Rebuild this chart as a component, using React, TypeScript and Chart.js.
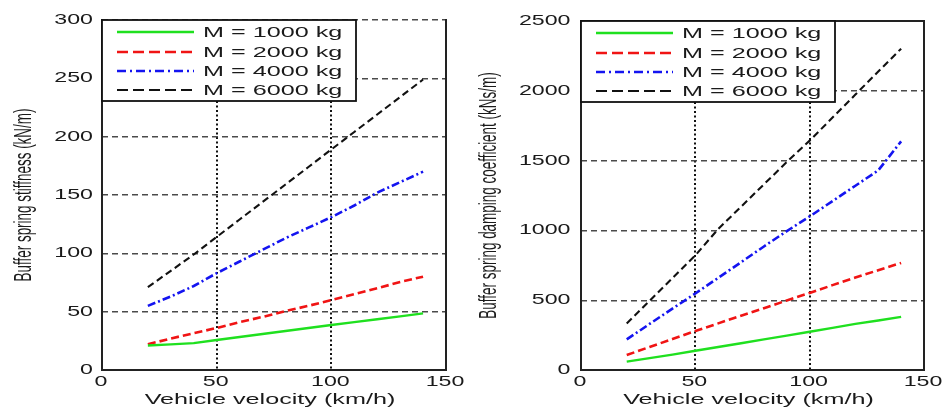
import React, { useEffect, useRef } from "react";
import { Chart, registerables } from "chart.js";

Chart.register(...registerables);

// ---------- data ----------
const velocity = [20, 30, 40, 50, 60, 70, 80, 90, 100, 110, 120, 130, 140];

const stiffness1000 = [21, 22, 23, 25.7, 28.3, 30.9, 33.4, 36, 38.6, 41, 43.5, 46, 48.5];
const stiffness2000 = [22, 27, 31.5, 36, 41, 45.5, 50.5, 55, 60, 65, 70, 75.5, 80];
const stiffness4000 = [55, 63, 72, 83, 93, 103, 113, 122, 131, 141, 152, 161, 170];
const stiffness6000 = [71, 85, 99, 114, 129, 144, 159, 174, 189, 204, 219, 234, 249];

const damping1000 = [60, 85, 110, 138, 165, 192, 219, 246, 274, 302, 330, 355, 381];
const damping2000 = [107, 165, 222, 279, 334, 389, 443, 498, 552, 608, 662, 715, 767];
const damping4000 = [219, 330, 440, 548, 660, 772, 885, 995, 1100, 1210, 1320, 1430, 1638];
const damping6000 = [333, 495, 658, 821, 1010, 1170, 1330, 1490, 1643, 1808, 1973, 2138, 2302];

const seriesLabels = ["M = 1000 kg", "M = 2000 kg", "M = 4000 kg", "M = 6000 kg"];
const seriesColors = ["#1fe01f", "#f01414", "#1414f0", "#111111"];
const seriesDash: number[][] = [[], [8, 4], [8, 3, 2, 3], [7, 4]];
const legendDash: number[][] = [[], [11, 5], [9, 4, 2, 4], [11, 5]];
const seriesWidth = [2.4, 2.6, 2.6, 2.1];

const xTicks = [0, 50, 100, 150];
const stiffnessTicks = [0, 50, 100, 150, 200, 250, 300];
const dampingTicks = [0, 500, 1000, 1500, 2000, 2500];

const xTitle = "Vehicle velocity (km/h)";
const stiffnessTitle = "Buffer spring stiffness (kN/m)";
const dampingTitle = "Buffer spring damping coefficient (kNs/m)";

// ---------- helpers ----------
const SANS = '"Liberation Sans", Arial, sans-serif';
const TEXT = "#1a1a1a";

function stretchedText(
  ctx: CanvasRenderingContext2D,
  text: string,
  x: number,
  y: number,
  sx: number,
  align: "left" | "center" | "right",
  font: string,
  baseline: CanvasTextBaseline = "middle"
) {
  ctx.save();
  ctx.font = font;
  ctx.textBaseline = baseline;
  ctx.textAlign = "left";
  ctx.fillStyle = TEXT;
  const w = ctx.measureText(text).width * sx;
  const x0 = align === "left" ? x : align === "center" ? x - w / 2 : x - w;
  ctx.translate(x0, y);
  ctx.scale(sx, 1);
  ctx.fillText(text, 0, 0);
  ctx.restore();
}

interface PanelSpec {
  values: number[][];
  yTicks: number[];
  yTitle: string;
  padding: { left: number; right: number; top: number; bottom: number };
  yLabelGap: number;
  yTitleX: number;
  topSolid: boolean;
}

function makeChart(canvas: HTMLCanvasElement, spec: PanelSpec) {
  const yMax = spec.yTicks[spec.yTicks.length - 1];
  const yStep = spec.yTicks[1] - spec.yTicks[0];

  const decor = {
    id: "matlabDecor",
    afterDatasetsDraw(chart: any) {
      const ctx: CanvasRenderingContext2D = chart.ctx;
      const a = chart.chartArea;
      const xs = chart.scales.x;
      const ys = chart.scales.y;

      // frame
      ctx.save();
      ctx.strokeStyle = "#222";
      ctx.lineWidth = 2;
      ctx.setLineDash([]);
      ctx.beginPath();
      if (spec.topSolid) {
        ctx.moveTo(a.left, a.top);
        ctx.lineTo(a.right, a.top);
      }
      ctx.moveTo(a.left, a.top - 1);
      ctx.lineTo(a.left, a.bottom);
      ctx.lineTo(a.right, a.bottom);
      ctx.lineTo(a.right, a.top - 1);
      ctx.stroke();
      ctx.restore();

      // legend box
      const bx = a.left;
      const by = a.top;
      const bw = 254;
      const bh = 81;
      ctx.save();
      ctx.fillStyle = "#ffffff";
      ctx.fillRect(bx, by, bw, bh);
      ctx.strokeStyle = "#111";
      ctx.lineWidth = 1.8;
      ctx.strokeRect(bx, by, bw, bh);
      const rows = [12, 32, 51, 70];
      for (let i = 0; i < seriesLabels.length; i++) {
        const ry = by + rows[i];
        ctx.save();
        ctx.strokeStyle = seriesColors[i];
        ctx.lineWidth = seriesWidth[i];
        ctx.setLineDash(legendDash[i]);
        ctx.beginPath();
        ctx.moveTo(bx + 15, ry);
        ctx.lineTo(bx + 92, ry);
        ctx.stroke();
        ctx.restore();
        stretchedText(ctx, seriesLabels[i], bx + 101, ry + 1, 1.68, "left", `15px ${SANS}`);
      }
      ctx.restore();

      // tick labels
      for (const t of ys.ticks) {
        const py = ys.getPixelForValue(t.value);
        stretchedText(ctx, String(t.value), a.left - spec.yLabelGap, py, 1.6, "right", `14.5px ${SANS}`);
      }
      for (const t of xs.ticks) {
        const px = xs.getPixelForValue(t.value);
        stretchedText(ctx, String(t.value), px - 1, a.bottom + 12, 1.6, "center", `14.5px ${SANS}`);
      }

      // x title
      stretchedText(ctx, xTitle, (a.left + a.right) / 2 - 4, 404, 1.68, "center", `15px ${SANS}`, "alphabetic");

      // y title (condensed, rotated)
      ctx.save();
      ctx.font = `23px ${SANS}`;
      ctx.fillStyle = TEXT;
      ctx.textAlign = "center";
      ctx.textBaseline = "middle";
      ctx.translate(spec.yTitleX, (a.top + a.bottom) / 2);
      ctx.rotate(-Math.PI / 2);
      ctx.scale(0.585, 1);
      ctx.fillText(spec.yTitle, 0, 0);
      ctx.restore();
    },
  };

  return new Chart(canvas, {
    type: "line",
    data: {
      datasets: spec.values.map((vals, i) => ({
        label: seriesLabels[i],
        data: velocity.map((v, j) => ({ x: v, y: vals[j] })),
        borderColor: seriesColors[i],
        backgroundColor: seriesColors[i],
        borderWidth: seriesWidth[i],
        borderDash: seriesDash[i],
        pointRadius: 0,
        tension: 0,
        fill: false,
      })),
    },
    options: {
      animation: false,
      responsive: false,
      events: [],
      layout: { padding: spec.padding },
      plugins: { legend: { display: false }, tooltip: { enabled: false }, title: { display: false } },
      scales: {
        x: {
          type: "linear",
          min: xTicks[0],
          max: xTicks[xTicks.length - 1],
          afterBuildTicks: (s: any) => {
            s.ticks = xTicks.map((v) => ({ value: v }));
          },
          ticks: { display: false },
          grid: { color: "#111", lineWidth: 2, drawTicks: false },
          border: { display: false, dash: [2, 2.5] },
          afterFit: (s: any) => {
            s.height = 0;
          },
        },
        y: {
          type: "linear",
          min: 0,
          max: yMax,
          ticks: { display: false, stepSize: yStep },
          afterBuildTicks: (s: any) => {
            s.ticks = spec.yTicks.map((v) => ({ value: v }));
          },
          grid: { color: "#4a4a4a", lineWidth: 1.4, drawTicks: false },
          border: { display: false, dash: [6, 4] },
          afterFit: (s: any) => {
            s.width = 0;
          },
        },
      },
    },
    plugins: [decor],
  } as any);
}

function Panel({ spec, width }: { spec: PanelSpec; width: number }) {
  const ref = useRef<HTMLCanvasElement | null>(null);
  useEffect(() => {
    if (!ref.current) return;
    const chart = makeChart(ref.current, spec);
    return () => chart.destroy();
  }, []);
  return <canvas ref={ref} width={width} height={407} style={{ display: "block", width, height: 407 }} />;
}

const leftSpec: PanelSpec = {
  values: [stiffness1000, stiffness2000, stiffness4000, stiffness6000],
  yTicks: stiffnessTicks,
  yTitle: stiffnessTitle,
  padding: { left: 102, right: 24, top: 20, bottom: 37 },
  yLabelGap: 9,
  yTitleX: 25,
  topSolid: false,
};

const rightSpec: PanelSpec = {
  values: [damping1000, damping2000, damping4000, damping6000],
  yTicks: dampingTicks,
  yTitle: dampingTitle,
  padding: { left: 111, right: 19, top: 21, bottom: 37 },
  yLabelGap: 10.5,
  yTitleX: 20,
  topSolid: true,
};

export default function App() {
  return (
    <div style={{ position: "absolute", left: 0, top: 0, width: 943, height: 407, display: "flex", background: "#fff" }}>
      <Panel spec={leftSpec} width={470} />
      <Panel spec={rightSpec} width={473} />
    </div>
  );
}
